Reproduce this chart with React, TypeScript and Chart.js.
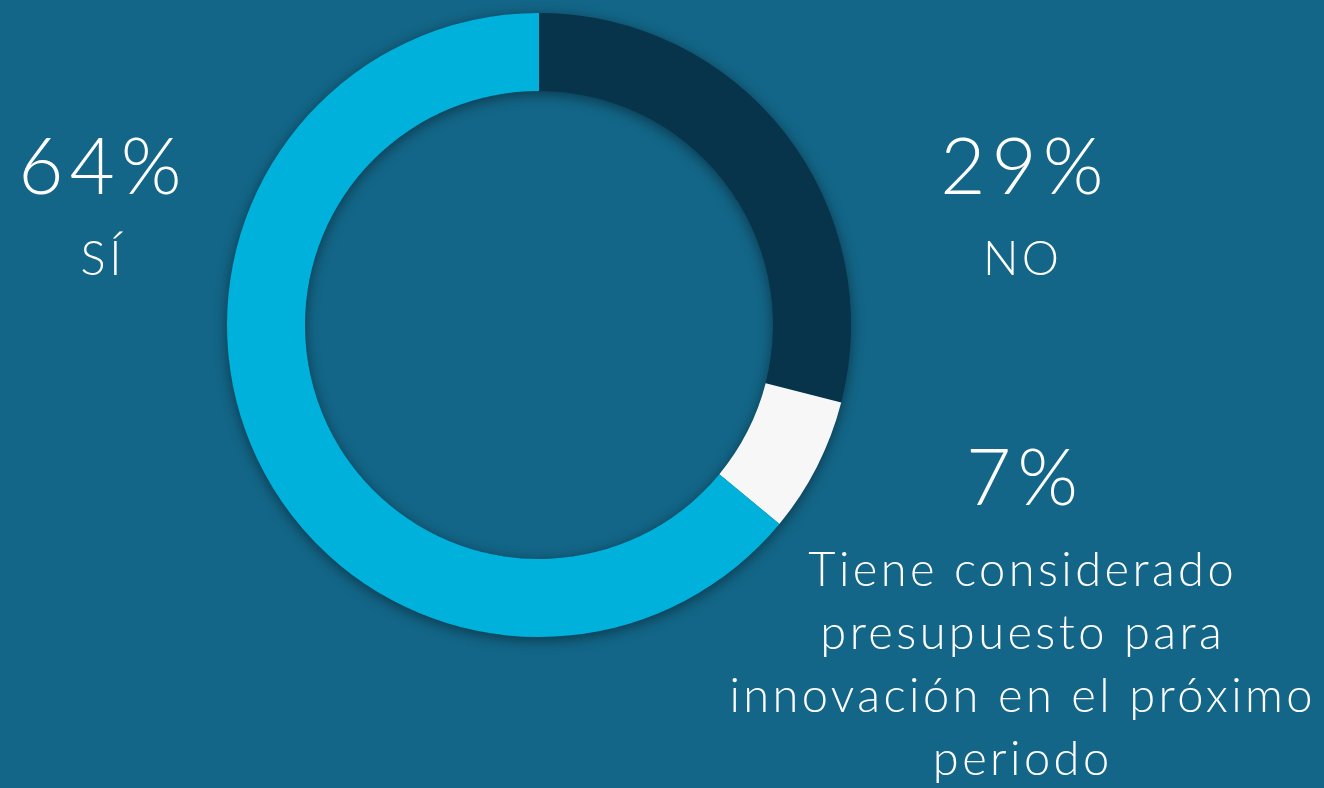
import React, { useEffect, useRef } from "react";
import { Chart, registerables } from "chart.js";

Chart.register(...registerables);

const categories = ["NO", "Tiene considerado presupuesto para innovación en el próximo periodo", "SÍ"];
const values = [29, 7, 64];
const colors = ["#08344B", "#F7F7F7", "#00B2DB"];
const BG = "#136688";

const ringShadow = {
  id: "ringShadow",
  beforeDatasetsDraw(chart: any) {
    const meta = chart.getDatasetMeta(0);
    const a = meta.data[0];
    if (!a) return;
    const { x, y, innerRadius, outerRadius } = a as any;
    const ctx = chart.ctx;
    ctx.save();
    ctx.shadowColor = "rgba(0,0,0,0.45)";
    ctx.shadowBlur = 14;
    ctx.shadowOffsetY = 3;
    ctx.beginPath();
    ctx.arc(x, y, outerRadius, 0, Math.PI * 2);
    ctx.arc(x, y, innerRadius, Math.PI * 2, 0, true);
    ctx.closePath();
    ctx.fillStyle = "#0b4d6b";
    ctx.fill("evenodd");
    ctx.restore();
  },
};

const font = "Lato, 'Open Sans', sans-serif";

export default function App() {
  const ref = useRef<HTMLCanvasElement>(null);
  useEffect(() => {
    const chart = new Chart(ref.current!, {
      type: "doughnut",
      data: {
        labels: categories,
        datasets: [
          {
            data: values,
            backgroundColor: colors,
            borderWidth: 0,
          },
        ],
      },
      options: {
        animation: false,
        responsive: true,
        maintainAspectRatio: false,
        cutout: "75%",
        rotation: 0,
        layout: { padding: { left: 227, right: 473, top: 13, bottom: 151 } },
        plugins: { legend: { display: false }, tooltip: { enabled: false } },
      },
      plugins: [ringShadow],
    });
    return () => chart.destroy();
  }, []);

  const pct = (v: number) => `${v}%`;
  const bigLs = 6;
  const smallLs = 3.4;
  const big: React.CSSProperties = {
    position: "absolute",
    transform: "translateX(-50%)",
    fontFamily: font,
    fontWeight: 300,
    fontSize: 78,
    lineHeight: "80px",
    letterSpacing: bigLs,
    paddingLeft: bigLs,
    color: "#fff",
    whiteSpace: "nowrap",
    textAlign: "center",
  };
  const small: React.CSSProperties = {
    position: "absolute",
    transform: "translateX(-50%)",
    fontFamily: font,
    fontWeight: 300,
    fontSize: 47,
    lineHeight: "63px",
    letterSpacing: smallLs,
    paddingLeft: smallLs,
    color: "#fff",
    textAlign: "center",
    whiteSpace: "nowrap",
  };

  return (
    <div style={{ position: "absolute", left: 0, top: 0, width: 1324, height: 788, background: BG, overflow: "hidden" }}>
      <div style={{ position: "absolute", left: 0, top: 0, width: 1324, height: 788 }}>
        <canvas ref={ref} />
      </div>
      <div style={{ ...big, left: 100, top: 124 }}>{pct(values[2])}</div>
      <div style={{ ...small, left: 101, top: 226 }}>{categories[2]}</div>
      <div style={{ ...big, left: 1022, top: 124 }}>{pct(values[0])}</div>
      <div style={{ ...small, left: 1021, top: 226 }}>{categories[0]}</div>
      <div style={{ ...big, left: 1022, top: 435 }}>{pct(values[1])}</div>
      <div style={{ ...small, left: 1021, top: 537 }}>
        Tiene considerado
        <br />
        presupuesto para
        <br />
        innovación en el próximo
        <br />
        periodo
      </div>
    </div>
  );
}
